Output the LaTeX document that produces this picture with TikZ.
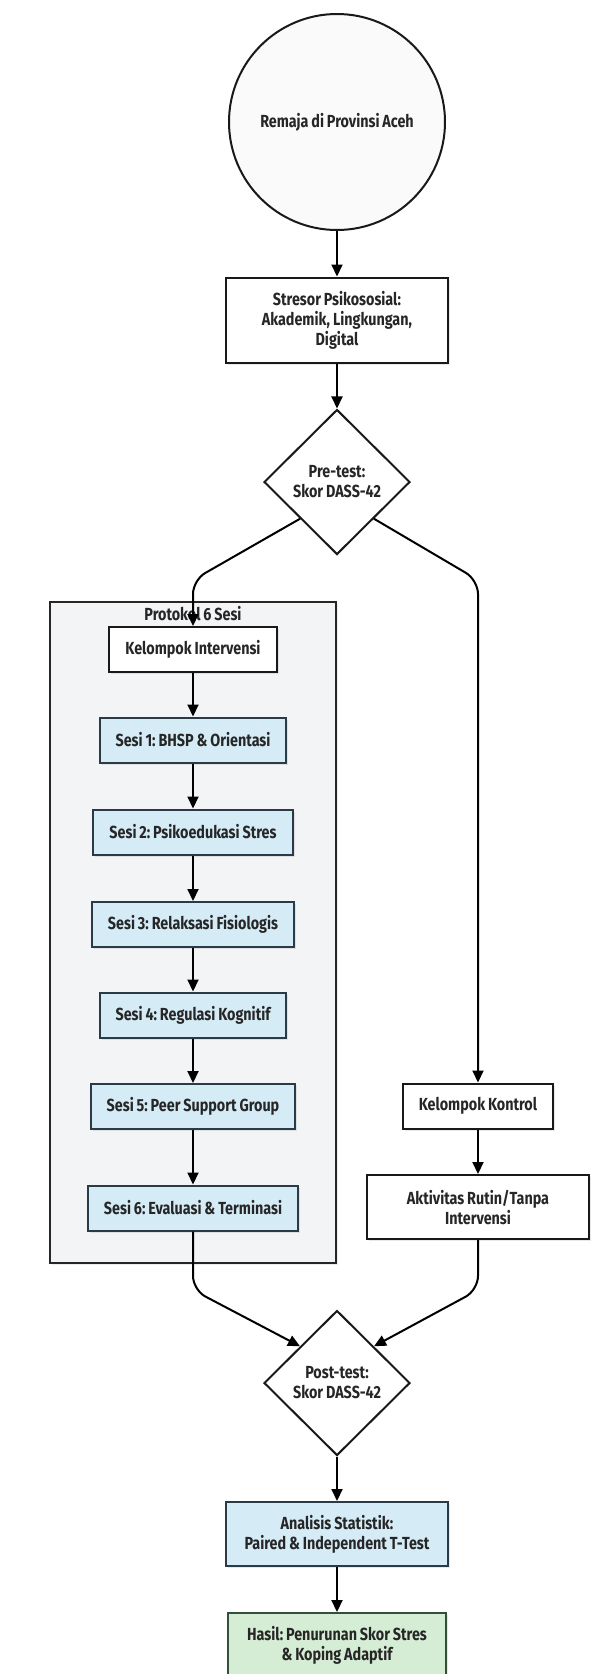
\documentclass[tikz,border=0pt]{standalone}
\usepackage{fontspec}
\setmainfont{Fira Sans}[FakeStretch=0.82,WordSpace=0.85]
\usetikzlibrary{shapes.geometric,arrows.meta,shadows}

\definecolor{sesiblue}{HTML}{D5ECF7}
\definecolor{hasilgreen}{HTML}{D6EDD5}
\definecolor{framegray}{HTML}{F3F4F6}
\definecolor{edgeblue}{HTML}{2B3A47}
\definecolor{edgegreen}{HTML}{33503A}

\tikzset{
  base/.style={draw=black!90,line width=2pt,align=center,inner xsep=16pt,inner ysep=0pt,
    drop shadow={shadow xshift=2pt,shadow yshift=-2pt,opacity=0.18}},
  box/.style={base,fill=white,minimum height=45pt},
  widebox/.style={base,fill=white,minimum width=222pt,minimum height=64pt},
  sesi/.style={base,fill=sesiblue,draw=edgeblue,minimum height=45pt},
  dec/.style={diamond,draw=black!90,line width=2pt,fill=white,align=center,inner sep=0pt,
    minimum width=146pt,minimum height=145pt},
  flow/.style={line width=2pt,-{Triangle[length=12pt,width=11pt]},rounded corners=14pt}
}

\begin{document}
\frenchspacing
\begin{tikzpicture}[x=1pt,y=-1pt,every node/.style={font=\fontsize{17.5}{20}\selectfont\bfseries,text=black!85}]
\fill[white] (0,0) rectangle (613,1674);
\useasboundingbox (0,0) rectangle (613,1674);

% alur utama atas
\node[circle,draw=black!90,line width=2pt,fill=black!2,minimum size=216pt,inner sep=0pt] (remaja) at (337,122) {Remaja di Provinsi Aceh};
\node[widebox,minimum height=85pt] (stresor) at (337,320) {Stresor Psikososial:\\Akademik, Lingkungan,\\Digital};
\node[dec] (pre) at (337,482) {Pre-test:\\Skor DASS-42};

% kelompok intervensi
\node[draw=black!85,line width=2pt,fill=framegray,minimum width=286pt,minimum height=661pt,inner sep=0pt,
  drop shadow={shadow xshift=2pt,shadow yshift=-2pt,opacity=0.15}] (protokol) at (193,932.5) {};
\node (protlabel) at (193,614) {Protokol 6 Sesi};
\node[box] (ki) at (193,649.5) {Kelompok Intervensi};
\node[sesi] (s1) at (193,740) {Sesi 1: BHSP \& Orientasi};
\node[sesi] (s2) at (193,832) {Sesi 2: Psikoedukasi Stres};
\node[sesi] (s3) at (193,924.5) {Sesi 3: Relaksasi Fisiologis};
\node[sesi] (s4) at (193,1015) {Sesi 4: Regulasi Kognitif};
\node[sesi] (s5) at (193,1106.5) {Sesi 5: Peer Support Group};
\node[sesi] (s6) at (193,1208) {Sesi 6: Evaluasi \& Terminasi};

% kelompok kontrol
\node[box] (kk) at (478,1106) {Kelompok Kontrol};
\node[widebox] (rutin) at (478,1207) {Aktivitas Rutin/Tanpa\\Intervensi};

% alur bawah
\node[dec] (post) at (337,1383) {Post-test:\\Skor DASS-42};
\node[widebox,fill=sesiblue,draw=edgeblue] (analisis) at (337,1534) {Analisis Statistik:\\Paired \& Independent T-Test};
\node[widebox,fill=hasilgreen,draw=edgegreen,minimum width=218pt] (hasil) at (337,1645) {Hasil: Penurunan Skor Stres\\\& Koping Adaptif};

% titik belok
\coordinate (splitL) at (193,580);
\coordinate (splitR) at (478,580);
\coordinate (joinL) at (193,1290);
\coordinate (joinR) at (478,1290);

% panah
\draw[flow] (remaja) -- (stresor);
\draw[flow] (stresor) -- (pre);
\draw[flow] (pre.south west) -- (splitL) -- (ki.north);
\draw[flow] (pre.south east) -- (splitR) -- (kk.north);
\draw[flow] (ki) -- (s1);
\draw[flow] (s1) -- (s2);
\draw[flow] (s2) -- (s3);
\draw[flow] (s3) -- (s4);
\draw[flow] (s4) -- (s5);
\draw[flow] (s5) -- (s6);
\draw[flow] (kk) -- (rutin);
\draw[flow] (s6.south) -- (joinL) -- (post.north west);
\draw[flow] (rutin.south) -- (joinR) -- (post.north east);
\draw[flow] (post) -- (analisis);
\draw[flow] (analisis) -- (hasil);
\end{tikzpicture}
\end{document}
